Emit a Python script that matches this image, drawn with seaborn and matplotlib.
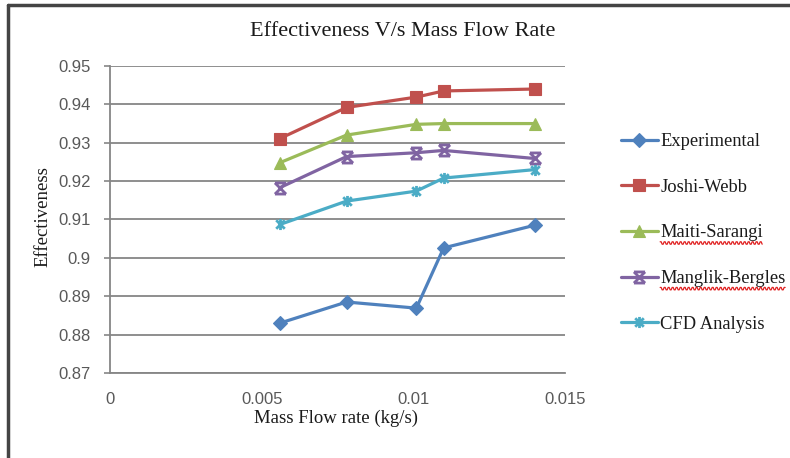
import numpy as np
import pandas as pd
import matplotlib
matplotlib.use("Agg")
import matplotlib.pyplot as plt
from matplotlib.path import Path
from matplotlib.lines import Line2D
import seaborn as sns

# Mass flow rate (kg/s) at which each method was evaluated
mass_flow = [0.0056, 0.0078, 0.0101, 0.0110, 0.0140]

# Effectiveness for each method
experimental = [0.8830, 0.8885, 0.8869, 0.9026, 0.9085]
joshi_webb = [0.9311, 0.9392, 0.9419, 0.9435, 0.9440]
maiti_sarangi = [0.9248, 0.9320, 0.9348, 0.9350, 0.9350]
manglik_bergles = [0.9183, 0.9264, 0.9274, 0.9280, 0.9259]
cfd_analysis = [0.9087, 0.9148, 0.9174, 0.9208, 0.9230]

series_names = ["Experimental", "Joshi-Webb", "Maiti-Sarangi",
                "Manglik-Bergles", "CFD Analysis"]
series_values = [experimental, joshi_webb, maiti_sarangi,
                 manglik_bergles, cfd_analysis]

x_ticks = [0, 0.005, 0.01, 0.015]
x_tick_labels = ["0", "0.005", "0.01", "0.015"]
y_ticks = [0.87, 0.88, 0.89, 0.90, 0.91, 0.92, 0.93, 0.94, 0.95]
y_tick_labels = ["0.87", "0.88", "0.89", "0.9", "0.91", "0.92", "0.93",
                 "0.94", "0.95"]

df = pd.DataFrame({
    "flow": np.tile(mass_flow, len(series_names)),
    "eff": np.concatenate(series_values),
    "method": np.repeat(series_names, len(mass_flow)),
})

# Office-style marker shapes
hourglass = Path([(-1, -1), (1, 1), (-1, 1), (1, -1), (-1, 1), (1, 1),
                  (-1, -1), (1, -1)],
                 [Path.MOVETO, Path.LINETO, Path.MOVETO, Path.LINETO,
                  Path.MOVETO, Path.LINETO, Path.MOVETO, Path.LINETO])
asterisk = Path([(-1, -1), (1, 1), (-1, 1), (1, -1), (0, -1.3), (0, 1.3)],
                [Path.MOVETO, Path.LINETO, Path.MOVETO, Path.LINETO,
                 Path.MOVETO, Path.LINETO])

styles = {
    "Experimental": dict(color="#4F81BD", marker="D", ms=7),
    "Joshi-Webb": dict(color="#C0504D", marker="s", ms=8.5),
    "Maiti-Sarangi": dict(color="#9BBB59", marker="^", ms=9),
    "Manglik-Bergles": dict(color="#8064A2", marker=hourglass, ms=8),
    "CFD Analysis": dict(color="#4BACC6", marker=asterisk, ms=8),
}

sns.set_theme(style="white")
plt.rcParams["font.family"] = ["Liberation Serif", "DejaVu Serif"]

fig = plt.figure(figsize=(7.9, 4.58), dpi=100)
ax = fig.add_axes([110 / 790, 85 / 458, 455 / 790, 307 / 458])

for name in series_names:
    st = styles[name]
    sub = df[df["method"] == name]
    line_marker = not isinstance(st["marker"], str)
    sns.lineplot(data=sub, x="flow", y="eff", ax=ax, color=st["color"],
                 marker=st["marker"], markersize=st["ms"],
                 markeredgecolor=st["color"], markerfacecolor=st["color"],
                 markeredgewidth=2.0 if line_marker else 0.8,
                 linewidth=2.3, label=name, sort=False)

ax.set_xlim(0, 0.015)
ax.set_ylim(0.87, 0.95)
ax.set_xticks(x_ticks)
ax.set_xticklabels(x_tick_labels, family="Liberation Sans", fontsize=12,
                   color="#595959")
ax.set_yticks(y_ticks)
ax.set_yticklabels(y_tick_labels, family="Liberation Sans", fontsize=12,
                   color="#595959")
ax.tick_params(axis="x", length=0, pad=14)
ax.tick_params(axis="y", length=4, width=1.2, color="#868686", pad=10,
               left=True)

ax.grid(axis="y", color="#868686", linewidth=1.3)
ax.grid(axis="x", visible=False)
for side in ("top", "right"):
    ax.spines[side].set_visible(False)
for side in ("left", "bottom"):
    ax.spines[side].set_color("#868686")
    ax.spines[side].set_linewidth(1.3)

ax.set_xlabel("Mass Flow rate (kg/s)", fontsize=13.5, color="#1a1a1a")
ax.xaxis.set_label_coords(0.497, -0.147)
ax.xaxis.label.set_va("center")
ax.set_ylabel("Effectiveness", fontsize=13.5, color="#1a1a1a")
ax.yaxis.set_label_coords(-0.148, 0.508)
ax.yaxis.label.set_va("center")

fig.suptitle("Effectiveness V/s Mass Flow Rate", x=403 / 790,
             y=1 - 31 / 458, va="center", fontsize=16, color="#1a1a1a")

leg = ax.legend(loc="center left", bbox_to_anchor=(621 / 790, 1 - 233 / 458),
                bbox_transform=fig.transFigure, frameon=False, fontsize=13.3,
                handlelength=2.0, handletextpad=0.12, labelspacing=1.55,
                borderpad=0, borderaxespad=0)
for t in leg.get_texts():
    t.set_color("#1a1a1a")

# Outer frame edges along the top and left of the figure
fig.add_artist(Line2D([8 / 790, 1], [1 - 4.5 / 458, 1 - 4.5 / 458],
                      transform=fig.transFigure, color="#444444", lw=2.5))
fig.add_artist(Line2D([8 / 790, 8 / 790], [0, 1 - 4.5 / 458],
                      transform=fig.transFigure, color="#444444", lw=2.5))

# Red spell-check squiggles under two legend entries
fig.canvas.draw()
renderer = fig.canvas.get_renderer()
for t in leg.get_texts():
    if t.get_text() in ("Maiti-Sarangi", "Manglik-Bergles"):
        bb = t.get_window_extent(renderer)
        xs = np.arange(bb.x0, bb.x1, 1.0)
        ys = bb.y0 - 1.5 + 1.2 * np.where((xs // 2) % 2 == 0, 1, -1)
        fig.add_artist(Line2D(xs / fig.bbox.width, ys / fig.bbox.height,
                              transform=fig.transFigure, color="#e02020",
                              lw=0.9))

fig.savefig("out.png", dpi=100)
